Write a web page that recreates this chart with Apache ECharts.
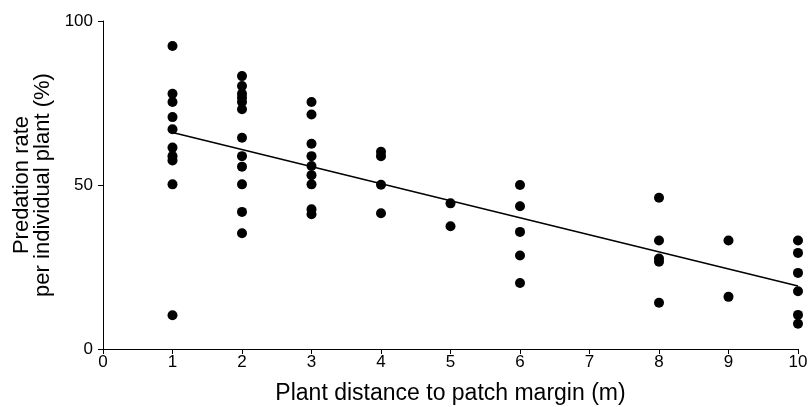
<!DOCTYPE html>
<html>
<head>
<meta charset="utf-8">
<script src="https://cdn.jsdelivr.net/npm/echarts@6/dist/echarts.min.js"></script>
<style>
html,body{margin:0;padding:0;background:#fff;}
#chart{width:808px;height:407px;}
</style>
</head>
<body>
<div id="chart"></div>
<script>
// Observations: distance (m) and predation rate (%)
const dist1 = [92.4, 77.8, 75.3, 70.7, 67.0, 61.4, 58.8, 57.5, 50.2, 10.3];
const dist2 = [83.2, 80.2, 77.8, 76.6, 75.3, 73.1, 64.4, 58.8, 55.6, 50.2, 41.8, 35.3];
const dist3 = [75.3, 71.5, 62.6, 58.8, 55.8, 53.0, 50.2, 42.6, 41.1];
const dist4 = [60.1, 58.8, 50.1, 41.4];
const dist5 = [44.4, 37.4];
const dist6 = [50.0, 43.5, 35.7, 28.5, 20.1];
const dist8 = [46.1, 33.1, 27.6, 26.6, 14.1];
const dist9 = [33.1, 15.9];
const dist10 = [33.1, 29.3, 23.2, 17.6, 10.4, 7.7];
const distances = [1, 2, 3, 4, 5, 6, 8, 9, 10];
const groups = [dist1, dist2, dist3, dist4, dist5, dist6, dist8, dist9, dist10];
const fitLine = [[1, 66.0], [10, 19.2]];

const points = [];
groups.forEach((g, i) => g.forEach(v => points.push([distances[i], v])));

const font = 'Liberation Sans, Arial, Helvetica, sans-serif';
const chart = echarts.init(document.getElementById('chart'));
chart.setOption({
  animation: false,
  backgroundColor: '#fff',
  grid: {left: 103, right: 10, top: 21, bottom: 58, containLabel: false, outerBoundsMode: 'none'},
  xAxis: {
    type: 'value', min: 0, max: 10, interval: 1,
    name: 'Plant distance to patch margin (m)',
    nameLocation: 'middle', nameGap: 33,
    nameTextStyle: {fontFamily: font, fontSize: 23, color: '#000'},
    axisLine: {show: true, lineStyle: {color: '#000', width: 1}},
    axisTick: {show: true, length: 5, lineStyle: {color: '#000'}},
    axisLabel: {fontFamily: font, fontSize: 17, color: '#000', margin: 5},
    splitLine: {show: false}
  },
  yAxis: {
    type: 'value', min: 0, max: 100, interval: 50,
    name: 'Predation rate\nper individual plant (%)',
    nameLocation: 'middle', nameGap: 47, nameRotate: 90,
    nameTextStyle: {fontFamily: font, fontSize: 22, color: '#000', lineHeight: 21, align: 'center'},
    axisLine: {show: true, lineStyle: {color: '#000', width: 1}},
    axisTick: {show: true, length: 5, lineStyle: {color: '#000'}},
    axisLabel: {fontFamily: font, fontSize: 17, color: '#000', margin: 10},
    splitLine: {show: false}
  },
  series: [
    {
      type: 'scatter', data: points, symbol: 'circle', symbolSize: 10,
      itemStyle: {color: '#000', opacity: 1}, z: 3
    },
    {
      type: 'line', data: fitLine, symbol: 'none',
      lineStyle: {color: '#000', width: 1.5}, z: 2
    }
  ]
});
</script>
</body>
</html>
